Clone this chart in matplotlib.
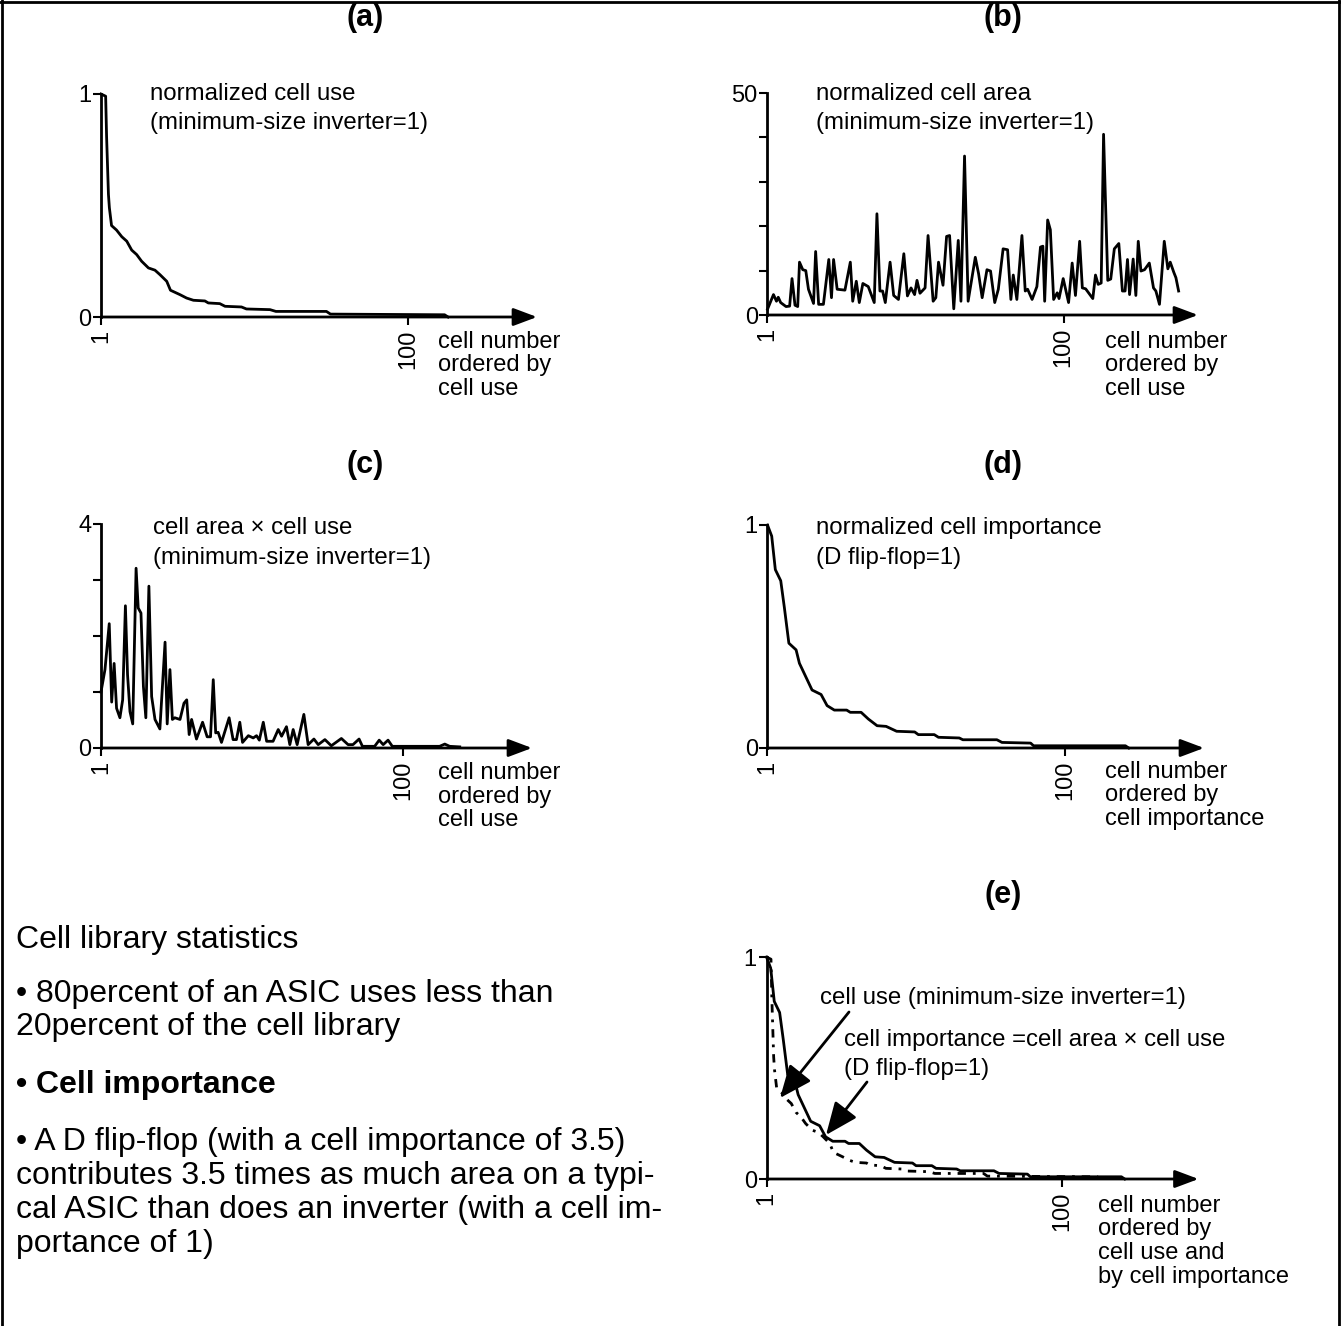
import matplotlib
matplotlib.use("Agg")
import matplotlib.pyplot as plt
from matplotlib.lines import Line2D
from matplotlib.patches import ArrowStyle, FancyArrowPatch

plt.rcParams['font.family'] = ['Liberation Sans', 'DejaVu Sans']

# (a) normalized cell use, cells ordered by use
use_cell = [1.0, 2.5, 2.8, 3.4, 3.7, 4.4, 6.0, 7.7, 9.3, 10.9, 12.5, 14.1, 16.3, 18.4, 20.0, 22.2,
            23.4, 26.5, 28.6, 30.8, 34.5, 35.6, 39.3, 41.0, 46.3, 47.9, 55.5, 57.4, 73.7, 75.0,
            111.8, 112.9]
use_val = [1.0, 0.99, 0.81, 0.55, 0.49, 0.41, 0.39, 0.36, 0.34, 0.30, 0.28, 0.25, 0.22, 0.21, 0.19,
           0.16, 0.12, 0.10, 0.085, 0.075, 0.072, 0.063, 0.06, 0.048, 0.045, 0.036, 0.033, 0.025,
           0.025, 0.013, 0.010, 0.0]

# (b) normalized cell area
area_cell = [1.0, 3.0, 4.0, 4.6, 5.4, 7.2, 8.4, 9.2, 10.2, 11.1, 11.7, 12.8, 13.8, 14.7, 16.4, 17.1,
             18.1, 19.7, 21.5, 22.4, 23.1, 24.3, 26.9, 28.7, 29.5, 30.7, 31.7, 32.9, 34.7, 36.7,
             37.6, 38.6, 39.5, 40.4, 42.0, 43.2, 44.8, 46.6, 47.8, 49.0, 50.2, 51.0, 52.0, 53.7,
             54.7, 56.4, 57.3, 58.2, 59.7, 60.9, 61.9, 63.3, 64.8, 65.7, 66.9, 68.1, 70.5, 71.6,
             72.8, 74.4, 75.6, 77.0, 78.2, 79.8, 81.3, 82.4, 83.2, 84.4, 86.1, 87.2, 88.0, 89.5,
             91.1, 92.3, 93.1, 93.7, 94.7, 95.6, 96.7, 97.9, 98.5, 99.9, 101.7, 102.9, 104.0,
             105.4, 106.3, 107.4, 109.8, 110.7, 111.6, 112.6, 113.4, 114.8, 115.8, 117.0, 118.5,
             119.7, 120.6, 121.4, 122.1, 123.3, 124.2, 125.0, 125.9, 127.1, 128.7, 130.1, 130.9,
             132.1, 133.7, 134.9, 135.7, 136.9, 137.6, 138.5]
area_val = [1.3, 4.6, 3.1, 4.0, 2.8, 1.9, 2.0, 8.2, 2.2, 1.9,
            11.9, 10.2, 10.0, 5.8, 2.6, 14.3, 2.4, 2.4, 12.5, 3.9,
            12.5, 5.8, 5.6, 11.9, 3.1, 7.6, 2.8, 7.1, 6.4, 2.8,
            22.8, 5.4, 5.4, 2.8, 11.9, 4.4, 3.5, 13.8, 4.3, 6.1,
            4.6, 7.8, 4.9, 6.1, 17.9, 3.1, 3.9, 11.9, 6.7, 17.7,
            17.9, 1.4, 16.8, 3.1, 35.8, 3.1, 13.0, 9.3, 3.9, 10.2,
            9.9, 2.8, 5.8, 14.9, 14.7, 3.5, 9.0, 3.5, 17.9, 5.4,
            5.8, 3.5, 6.4, 15.3, 15.5, 3.1, 21.4, 19.2, 3.5, 5.0,
            3.7, 8.2, 2.8, 11.7, 4.4, 16.6, 6.1, 5.9, 3.7, 9.0,
            6.9, 7.2, 40.7, 7.8, 8.1, 14.9, 16.1, 5.4, 5.4, 12.5,
            4.6, 12.6, 4.4, 16.6, 9.9, 10.2, 11.7, 6.1, 5.4, 2.4,
            16.6, 10.4, 11.9, 9.6, 8.4, 5.4]

# (c) cell area x cell use
au_cell = [1, 2.3, 3.7, 4.5, 5.3, 6.1, 7.2, 8.1, 9.0, 9.7, 10.5, 11.4, 12.5, 13.2, 14.1, 14.9, 15.7,
           16.7, 17.6, 18.7, 20.3, 22.0, 22.7, 23.6, 24.4, 25.2, 26.9, 28.2, 29.1, 29.9, 30.7, 32.3,
           34.3, 35.8, 36.9, 37.8, 38.6, 39.4, 40.5, 43.0, 44.3, 45.4, 46.5, 47.4, 49.3, 50.9, 52.0,
           52.9, 54.2, 55.3, 57.4, 59.1, 60.2, 61.8, 62.9, 64.0, 65.3, 67.5, 68.9, 70.8, 72.2, 74.4,
           76.5, 79.8, 82.0, 83.6, 85.6, 86.7, 90.7, 92.2, 93.5, 95.1, 96.5, 112.0, 113.7, 115.3,
           118.6]
au_val = [1.0, 1.4, 2.22, 0.82, 1.51, 0.71, 0.54, 0.86, 2.54, 1.31, 0.65, 0.43, 3.21, 2.5, 2.41,
          1.1, 0.54, 2.89, 0.92, 0.51, 0.34, 1.89, 0.43, 1.40, 0.51, 0.54, 0.51, 0.80, 0.86, 0.24,
          0.51, 0.16, 0.46, 0.20, 0.20, 1.22, 0.27, 0.28, 0.10, 0.54, 0.15, 0.15, 0.46, 0.10, 0.22,
          0.18, 0.22, 0.14, 0.46, 0.12, 0.12, 0.33, 0.21, 0.38, 0.06, 0.33, 0.06, 0.60, 0.06, 0.16,
          0.06, 0.15, 0.04, 0.17, 0.06, 0.06, 0.16, 0.03, 0.03, 0.14, 0.06, 0.14, 0.03, 0.03, 0.07,
          0.03, 0.02]

# (d) normalized cell importance, cells ordered by importance
imp_cell = [1.0, 2.4, 3.6, 5.4, 6.6, 8.1, 10.5, 11.6, 13.7, 15.8, 17.3, 18.8, 20.8, 23.2, 27.3, 28.5,
            32.1, 34.5, 37.4, 40.4, 43.9, 49.9, 51.1, 56.4, 57.8, 64.7, 65.9, 77.2, 78.9, 88.4,
            89.4, 119.9, 121.0]
imp_val = [1.0, 0.95, 0.80, 0.75, 0.63, 0.47, 0.44, 0.38, 0.32, 0.26, 0.25, 0.24, 0.19, 0.17, 0.17,
           0.16, 0.16, 0.13, 0.10, 0.097, 0.075, 0.072, 0.06, 0.06, 0.048, 0.045, 0.037, 0.037,
           0.025, 0.022, 0.01, 0.01, 0.0]

W, H = 1341, 1326
fig = plt.figure(figsize=(W / 100, H / 100), dpi=100)
LW = 2.0
head = ArrowStyle('-|>', head_length=0.72, head_width=0.27)


def fx(x, y):
    return x / W, 1 - y / H


def panel(x0, y0, x100, xend, ytop, ymax, yticks, ylabels):
    # axes placed from pixel geometry of the picture
    per = (x100 - x0) / 99
    ax = fig.add_axes([x0 / W, 1 - y0 / H, (xend - x0) / W, (y0 - ytop) / H])
    ax.set_xlim(1, 1 + (xend - x0) / per)
    ax.set_ylim(0, ymax)
    ax.patch.set_visible(False)
    for s in ['top', 'right', 'bottom']:
        ax.spines[s].set_visible(False)
    ax.spines['left'].set_linewidth(2)
    ax.annotate('', xy=(1, 0), xytext=(0, 0), xycoords='axes fraction',
                arrowprops=dict(arrowstyle=head, lw=2, color='k', mutation_scale=20,
                                shrinkA=0, shrinkB=0))
    ax.set_xticks([1, 100])
    ax.set_xticklabels(['1', '100'], rotation=90)
    ax.set_yticks(yticks)
    ax.set_yticklabels(ylabels)
    ax.tick_params(axis='x', direction='out', length=6, width=1.5, pad=3, labelsize=17)
    ax.tick_params(axis='y', direction='out', length=6, width=1.5, pad=1, labelsize=17)
    return ax


def xlabel(x, y, lines):
    for i, s in enumerate(lines):
        fig.text(*fx(x, y + i * 23.5), s, fontsize=17, va='center', ha='left')


def note(x, y, lines):
    for i, s in enumerate(lines):
        fig.text(*fx(x, y + i * 29.5), s, fontsize=17.3, va='center', ha='left')


# (a)
ax = panel(101, 317, 408, 537, 94, 1, [0, 1], ['0', '1'])
ax.plot(use_cell, use_val, color='k', lw=LW, clip_on=False)
note(150, 94, ['normalized cell use', '(minimum-size inverter=1)'])
xlabel(438, 342, ['cell number', 'ordered by', 'cell use'])

# (b)
ax = panel(767.5, 315, 1063.5, 1198, 93, 50, [0, 10, 20, 30, 40, 50], ['0', '', '', '', '', '50'])
ax.plot(area_cell, area_val, color='k', lw=LW, clip_on=False)
note(816, 94, ['normalized cell area', '(minimum-size inverter=1)'])
xlabel(1105, 342, ['cell number', 'ordered by', 'cell use'])

# (c)
ax = panel(101, 748, 403, 532, 524, 4, [0, 1, 2, 3, 4], ['0', '', '', '', '4'])
ax.plot(au_cell, au_val, color='k', lw=LW, clip_on=False)
note(153, 528, ['cell area \u00d7 cell use', '(minimum-size inverter=1)'])
xlabel(438, 773, ['cell number', 'ordered by', 'cell use'])

# (d)
ax = panel(767.5, 748, 1065.5, 1204, 525, 1, [0, 1], ['0', '1'])
ax.plot(imp_cell, imp_val, color='k', lw=LW, clip_on=False)
note(816, 528, ['normalized cell importance', '(D flip-flop=1)'])
xlabel(1105, 772, ['cell number', 'ordered by', 'cell importance'])

# (e)
ax = panel(766.5, 1179, 1062, 1198.5, 957, 1, [0, 1], ['0', '1'])
ax.plot(imp_cell, imp_val, color='k', lw=LW, clip_on=False)
ax.plot(use_cell, use_val, color='k', lw=LW, clip_on=False, dashes=(3, 2.5, 1, 2.5))
fig.text(*fx(820, 998), 'cell use (minimum-size inverter=1)', fontsize=17.3, va='center')
note(844, 1040, ['cell importance =cell area \u00d7 cell use', '(D flip-flop=1)'])
xlabel(1098, 1206, ['cell number', 'ordered by', 'cell use and', 'by cell importance'])
big = ArrowStyle('-|>', head_length=1.0, head_width=0.42)
for tail, tip in [((849, 1012), (780, 1098)), ((867, 1082), (826, 1135))]:
    fig.add_artist(FancyArrowPatch(
        fx(*tail), fx(*tip), transform=fig.transFigure, arrowstyle=big,
        mutation_scale=20, lw=2, color='k', shrinkA=0, shrinkB=0))

# panel titles
for s, x, y in [('(a)', 365, 18), ('(b)', 1003, 18), ('(c)', 365, 465), ('(d)', 1003, 465),
                ('(e)', 1003, 895)]:
    fig.text(*fx(x, y), s, fontsize=22, fontweight='bold', ha='center', va='center')

# text block on the left
text_lines = [
    ('Cell library statistics', 940, 'normal'),
    ('\u2022 80percent of an ASIC uses less than', 994, 'normal'),
    ('20percent of the cell library', 1027, 'normal'),
    ('\u2022 Cell importance', 1085, 'bold'),
    ('\u2022 A D flip-flop (with a cell importance of 3.5)', 1142, 'normal'),
    ('contributes 3.5 times as much area on a typi-', 1176, 'normal'),
    ('cal ASIC than does an inverter (with a cell im-', 1210, 'normal'),
    ('portance of 1)', 1244, 'normal'),
]
for s, y, w in text_lines:
    fig.text(*fx(16, y), s, fontsize=23, fontweight=w, va='center', ha='left')

# frame round the page
for xs, ys in [((2, 2), (0, H)), ((0, W), (2, 2)), ((W - 2, W - 2), (0, H))]:
    fig.add_artist(Line2D([x / W for x in xs], [1 - y / H for y in ys], color='k', lw=2,
                          transform=fig.transFigure))

fig.savefig('out.png', dpi=100)
